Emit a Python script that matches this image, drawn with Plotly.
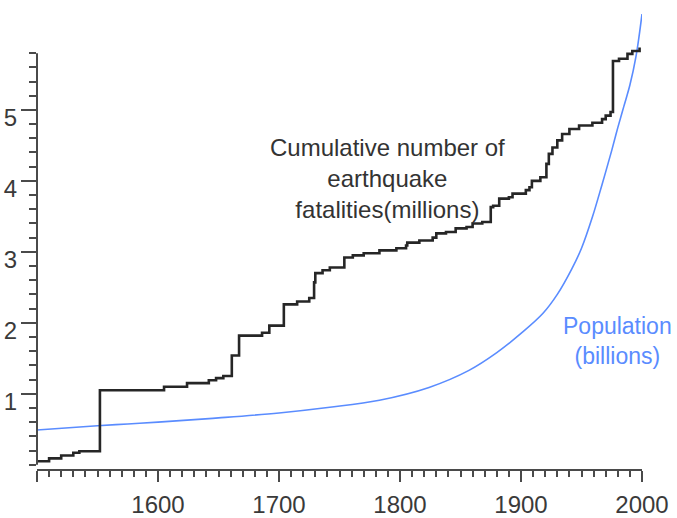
import numpy as np
import plotly.graph_objects as go

# Cumulative earthquake fatalities (millions): year of each step and level after it
quake_years = [1500, 1510, 1520, 1530, 1535, 1552, 1605, 1624, 1642, 1648, 1654,
               1661, 1667, 1686, 1692, 1704, 1715, 1725, 1729, 1730, 1736, 1742,
               1754, 1761, 1770, 1783, 1797, 1805, 1806, 1816, 1827, 1830, 1838,
               1846, 1855, 1860, 1868, 1875, 1877, 1882, 1890, 1893, 1904, 1907,
               1909, 1916, 1921, 1923, 1926, 1930, 1934, 1940, 1948, 1959, 1967,
               1970, 1974, 1976, 1981, 1988, 1992, 1998]
quake_cum = [0.05, 0.09, 0.13, 0.17, 0.19, 1.05, 1.10, 1.15, 1.19, 1.22, 1.25,
             1.54, 1.82, 1.86, 1.96, 2.26, 2.30, 2.35, 2.57, 2.70, 2.74, 2.78,
             2.92, 2.95, 2.98, 3.02, 3.05, 3.09, 3.13, 3.16, 3.20, 3.26, 3.28,
             3.33, 3.35, 3.40, 3.42, 3.63, 3.65, 3.75, 3.77, 3.82, 3.87, 3.91,
             4.00, 4.05, 4.24, 4.38, 4.47, 4.57, 4.66, 4.73, 4.78, 4.82, 4.87,
             4.92, 4.97, 5.69, 5.72, 5.79, 5.83, 5.88]

# World population (billions)
pop_years = [1500, 1550, 1600, 1650, 1700, 1742, 1783, 1824, 1857, 1880, 1900,
             1918, 1930, 1942, 1950, 1959, 1967, 1975, 1980, 1985, 1990, 1995, 2000]
pop_billions = [0.49, 0.55, 0.60, 0.66, 0.73, 0.81, 0.91, 1.09, 1.33, 1.58, 1.85,
                2.13, 2.40, 2.76, 3.05, 3.49, 3.95, 4.43, 4.75, 5.05, 5.35, 5.75, 6.35]

x_major = [1500, 1600, 1700, 1800, 1900, 2000]
x_labels = ["", "1600", "1700", "1800", "1900", "2000"]
y_major = [0, 1, 2, 3, 4, 5]
y_labels = ["", "1", "2", "3", "4", "5"]
y_minor = [round(v, 1) for v in np.arange(0, 5.81, 0.2)]

FONT = "Liberation Sans, Arial, Helvetica, sans-serif"
AXIS = "#4a4a4a"
BLUE = "#5a8cff"

fig = go.Figure()
fig.add_trace(go.Scatter(x=pop_years, y=pop_billions, mode="lines",
                         line=dict(color=BLUE, width=1.6, shape="spline", smoothing=1.0),
                         hoverinfo="skip"))
fig.add_trace(go.Scatter(x=quake_years, y=quake_cum, mode="lines",
                         line=dict(color="#262626", width=2.6, shape="hv"),
                         hoverinfo="skip"))

# y axis line spans only the labelled range 0..5.8
fig.add_shape(type="line", xref="paper", yref="y", x0=0, x1=0, y0=0, y1=5.8,
              line=dict(color=AXIS, width=2))

fig.add_annotation(x=1790, y=4.04, xref="x", yref="y",
                   text="Cumulative number of<br>earthquake<br>fatalities(millions)",
                   showarrow=False, font=dict(family=FONT, size=24, color="#333333"),
                   align="center", xanchor="center", yanchor="middle")
fig.add_annotation(x=1980, y=1.74, xref="x", yref="y",
                   text="Population<br>(billions)",
                   showarrow=False, font=dict(family=FONT, size=23, color=BLUE),
                   align="center", xanchor="center", yanchor="middle")

fig.update_layout(
    width=677, height=518,
    margin=dict(l=37, r=35, t=7, b=49, autoexpand=False),
    paper_bgcolor="white", plot_bgcolor="white",
    showlegend=False,
    font=dict(family=FONT, size=24, color="#3a3a3a"),
)
fig.update_xaxes(range=[1500, 2000], showgrid=False, zeroline=False, automargin=False,
                 showline=True, linecolor=AXIS, linewidth=2,
                 tickmode="array", tickvals=x_major, ticktext=x_labels,
                 ticks="outside", ticklen=11, tickwidth=2, tickcolor=AXIS,
                 ticklabelstandoff=2,
                 tickfont=dict(family=FONT, size=24, color="#3a3a3a"),
                 minor=dict(dtick=10, tick0=1500, ticks="outside", ticklen=6,
                            tickwidth=1.5, tickcolor=AXIS))
fig.update_yaxes(range=[-0.06, 6.45], showgrid=False, zeroline=False, automargin=False,
                 showline=False,
                 tickmode="array", tickvals=y_major, ticktext=y_labels,
                 ticks="outside", ticklen=15, tickwidth=2, tickcolor=AXIS,
                 ticklabelshift=8, ticklabelstandoff=-1,
                 tickfont=dict(family=FONT, size=24, color="#3a3a3a"),
                 minor=dict(tickmode="array", tickvals=y_minor, ticks="outside",
                            ticklen=7, tickwidth=1.5, tickcolor=AXIS))

fig.write_html("out.html")
